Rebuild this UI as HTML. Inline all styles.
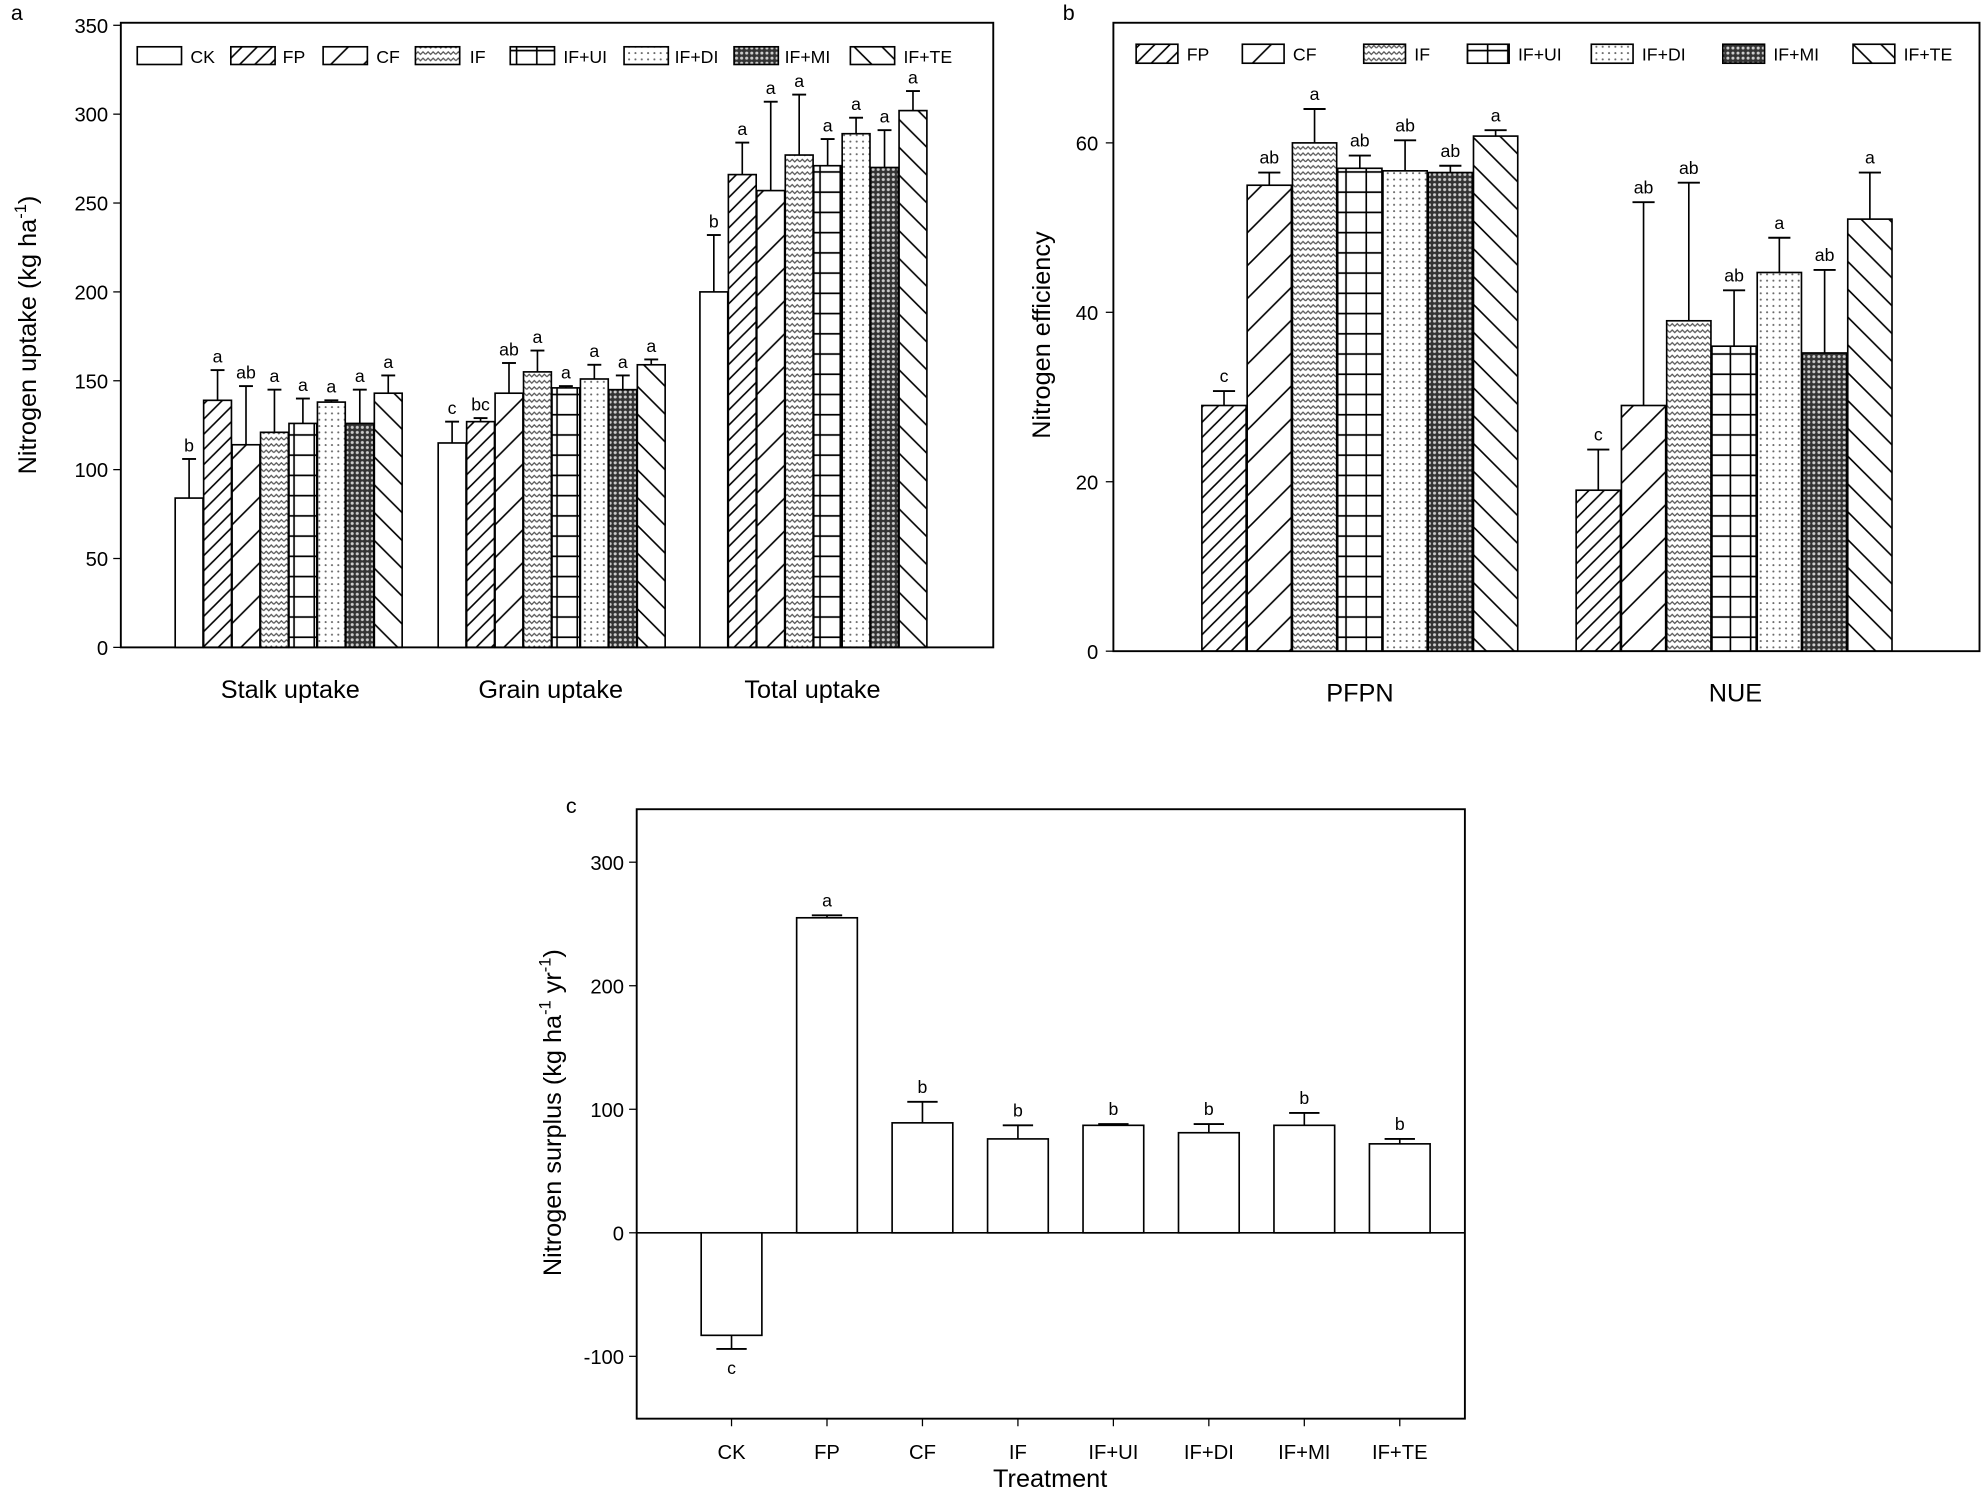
<!DOCTYPE html>
<html><head><meta charset="utf-8"><style>
html,body{margin:0;padding:0;background:#fff}
svg{display:block}
text{font-family:"Liberation Sans",Arial,sans-serif;fill:#000}
</style></head><body>
<svg id="s" width="1984" height="1492" viewBox="0 0 1568 1180" xmlns="http://www.w3.org/2000/svg">
<defs>
<pattern id="pFP" patternUnits="userSpaceOnUse" width="12" height="12"><path d="M-3,15 L15,-3 M-3,3 L3,-3 M9,15 L15,9" stroke="#000" stroke-width="1.3"/></pattern>
<pattern id="pCF" patternUnits="userSpaceOnUse" width="26" height="26"><path d="M-3,29 L29,-3 M-3,3 L3,-3 M23,29 L29,23" stroke="#000" stroke-width="1.3"/></pattern>
<pattern id="pIF" patternUnits="userSpaceOnUse" width="8" height="5"><rect width="8" height="5" fill="#fff"/><path d="M0,3 L2,1 L4,3 L6,1 L8,3" stroke="#555" fill="none" stroke-width="1"/></pattern>
<pattern id="pUI" patternUnits="userSpaceOnUse" width="16" height="16"><path d="M8,0 V16 M0,8 H16" stroke="#000" stroke-width="1.3"/></pattern>
<pattern id="pDI" patternUnits="userSpaceOnUse" width="5" height="5"><circle cx="2" cy="2" r="0.8" fill="#666"/></pattern>
<pattern id="pMI" patternUnits="userSpaceOnUse" width="4" height="4"><rect width="4" height="4" fill="#333"/><circle cx="2" cy="2" r="1.2" fill="#ccc"/></pattern>
<pattern id="pTE" patternUnits="userSpaceOnUse" width="22" height="22"><path d="M-3,-3 L25,25 M19,-3 L25,3 M-3,19 L3,25" stroke="#000" stroke-width="1.3"/></pattern>
</defs>
<g id="g"></g>
<text x="8" y="16" font-size="17">a</text>
<text x="840" y="16" font-size="17">b</text>
<text x="447" y="643" font-size="17">c</text>
<text x="229" y="552" font-size="20" text-anchor="middle">Stalk uptake</text>
<text x="435" y="552" font-size="20" text-anchor="middle">Grain uptake</text>
<text x="642" y="552" font-size="20" text-anchor="middle">Total uptake</text>
<text x="1075" y="555" font-size="20" text-anchor="middle">PFPN</text>
<text x="1372" y="555" font-size="20" text-anchor="middle">NUE</text>
<text x="830" y="1176" font-size="20" text-anchor="middle">Treatment</text>
<text transform="translate(28,265) rotate(-90)" font-size="20" text-anchor="middle">Nitrogen uptake (kg ha<tspan dy="-8" font-size="13">-1</tspan><tspan dy="8">)</tspan></text>
<text transform="translate(830,265) rotate(-90)" font-size="20" text-anchor="middle">Nitrogen efficiency</text>
<text transform="translate(443,880) rotate(-90)" font-size="20" text-anchor="middle">Nitrogen surplus (kg ha<tspan dy="-8" font-size="13">-1</tspan><tspan dy="8"> yr</tspan><tspan dy="-8" font-size="13">-1</tspan><tspan dy="8">)</tspan></text>
</svg>
<script>
var g=document.getElementById('g'),NS='http://www.w3.org/2000/svg';
function el(t,a,txt){var e=document.createElementNS(NS,t);for(var k in a)e.setAttribute(k,a[k]);if(txt!=null)e.textContent=txt;g.appendChild(e);return e;}
function bar(x,w,y0,y1,fill,et,letter,ly){
 el('rect',{x:x,y:Math.min(y0,y1),width:w,height:Math.abs(y1-y0),fill:fill,stroke:'#000','stroke-width':1.3});
 var c=x+w/2;
 el('line',{x1:c,y1:y1,x2:c,y2:et,stroke:'#000','stroke-width':1.3});
 el('line',{x1:c-w/4,y1:et,x2:c+w/4,y2:et,stroke:'#000','stroke-width':1.5});
 if(letter)el('text',{x:c,y:ly,'font-size':14,'text-anchor':'middle'},letter);
}
var fills={CK:'#fff',FP:'url(#pFP)',CF:'url(#pCF)',IF:'url(#pIF)',UI:'url(#pUI)',DI:'url(#pDI)',MI:'url(#pMI)',TE:'url(#pTE)'};
var keys=['CK','FP','CF','IF','UI','DI','MI','TE'];
// panel a
el('rect',{x:95,y:18,width:690,height:494,fill:'none',stroke:'#000','stroke-width':1.5});
var ya=function(v){return 512-v*492/350;};
for(var v=0;v<=350;v+=50){el('line',{x1:89,y1:ya(v),x2:95,y2:ya(v),stroke:'#000'});el('text',{x:85,y:ya(v)+6,'font-size':16,'text-anchor':'end'},String(v));}
var A=[[84,139,114,121,126,138,126,143],[115,127,143,155,146,151,145,159],[200,266,257,277,271,289,270,302]];
var AT=[[106,156,147,145,140,139,145,153],[127,129,160,167,147,159,153,162],[232,284,307,311,286,298,291,313]];
var AL=[['b','a','ab','a','a','a','a','a'],['c','bc','ab','a','a','a','a','a'],['b','a','a','a','a','a','a','a']];
var AX=[138,346,553];
for(var gi=0;gi<3;gi++)for(var i=0;i<8;i++){var x=AX[gi]+i*22.5;bar(x,22,512,ya(A[gi][i]),fills[keys[i]],ya(AT[gi][i]),AL[gi][i],ya(AT[gi][i])-6);}
var la=[['CK',108,150,'CK'],['FP',182,223,'FP'],['CF',255,297,'CF'],['IF',328,371,'IF'],['UI',403,445,'IF+UI'],['DI',493,533,'IF+DI'],['MI',580,620,'IF+MI'],['TE',672,714,'IF+TE']];
la.forEach(function(l){el('rect',{x:l[1],y:37,width:35,height:14,fill:fills[l[0]],stroke:'#000','stroke-width':1.3});el('text',{x:l[2],y:50,'font-size':14},l[3]);});
// panel b
el('rect',{x:880,y:18,width:685,height:497,fill:'none',stroke:'#000','stroke-width':1.5});
var yb=function(v){return 515-v*6.7;};
for(var v=0;v<=60;v+=20){el('line',{x1:874,y1:yb(v),x2:880,y2:yb(v),stroke:'#000'});el('text',{x:868,y:yb(v)+6,'font-size':16,'text-anchor':'end'},String(v));}
var B=[[29,55,60,57,56.7,56.5,60.8],[19,29,39,36,44.7,35.2,51]];
var BT=[[30.7,56.5,64,58.5,60.3,57.3,61.5],[23.8,53,55.3,42.6,48.8,45,56.5]];
var BL=[['c','ab','a','ab','ab','ab','a'],['c','ab','ab','ab','a','ab','a']];
var BX=[950,1246];
for(var gi=0;gi<2;gi++)for(var i=0;i<7;i++){var x=BX[gi]+i*35.8;bar(x,35,515,yb(B[gi][i]),fills[keys[i+1]],yb(BT[gi][i]),BL[gi][i],yb(BT[gi][i])-7);}
var lb=[['FP',898,'FP'],['CF',982,'CF'],['IF',1078,'IF'],['UI',1160,'IF+UI'],['DI',1258,'IF+DI'],['MI',1362,'IF+MI'],['TE',1465,'IF+TE']];
lb.forEach(function(l){el('rect',{x:l[1],y:35,width:33,height:15,fill:fills[l[0]],stroke:'#000','stroke-width':1.3});el('text',{x:l[1]+40,y:48,'font-size':14},l[2]);});
// panel c
el('rect',{x:503,y:640,width:655,height:482,fill:'none',stroke:'#000','stroke-width':1.5});
var yc=function(v){return 975-v*0.977;};
el('line',{x1:503,y1:975,x2:1158,y2:975,stroke:'#000','stroke-width':1.3});
for(var v=-100;v<=300;v+=100){el('line',{x1:497,y1:yc(v),x2:503,y2:yc(v),stroke:'#000'});el('text',{x:493,y:yc(v)+6,'font-size':16,'text-anchor':'end'},String(v));}
var C=[-83,255,89,76,87,81,87,72],CT=[-94,257,106,87,88,88,97,76],CL=['c','a','b','b','b','b','b','b'];
var CN=['CK','FP','CF','IF','IF+UI','IF+DI','IF+MI','IF+TE'];
for(var i=0;i<8;i++){var c=578+i*75.5;bar(c-24,48,975,yc(C[i]),'#fff',yc(CT[i]),CL[i],i==0?yc(CT[i])+20:yc(CT[i])-7);
 el('line',{x1:c,y1:1122,x2:c,y2:1128,stroke:'#000'});el('text',{x:c,y:1154,'font-size':16,'text-anchor':'middle'},CN[i]);}
</script>
</body></html>
